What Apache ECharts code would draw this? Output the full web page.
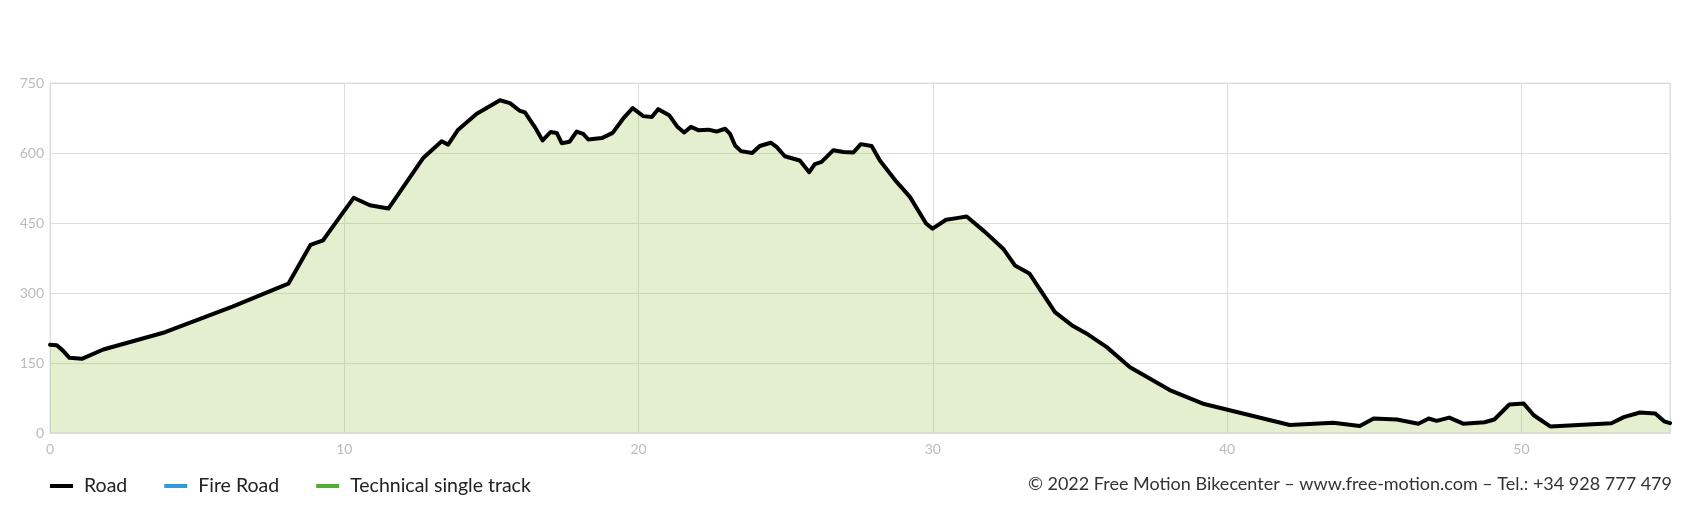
<!DOCTYPE html>
<html>
<head>
<meta charset="utf-8">
<script src="https://cdn.jsdelivr.net/npm/echarts@6/dist/echarts.min.js"></script>
<style>
  html, body { margin: 0; padding: 0; background: #ffffff; }
  #chart { width: 1705px; height: 522px; }
</style>
</head>
<body>
<div id="chart"></div>
<script>
// Distance along route (km)
const distanceKm = [0, 0.23, 0.45, 0.66, 1.08, 1.81, 3.91, 6.2, 8.10, 8.85, 9.28, 9.85, 10.32, 10.87, 11.50,
  12.69, 13.31, 13.53, 13.87, 14.50, 15.29, 15.63, 15.95, 16.14, 16.51, 16.74, 17.01, 17.22, 17.39, 17.65,
  17.90, 18.12, 18.29, 18.75, 19.12, 19.48, 19.80, 20.16, 20.45, 20.67, 21.04, 21.31, 21.55, 21.78, 22.03,
  22.37, 22.65, 22.94, 23.11, 23.28, 23.48, 23.86, 24.12, 24.49, 24.69, 24.97, 25.48, 25.80, 25.99, 26.22,
  26.62, 26.96, 27.30, 27.55, 27.92, 28.20, 28.77, 29.22, 29.77, 29.99, 30.45, 30.86, 31.15, 31.77, 32.39,
  32.79, 33.28, 34.15, 34.72, 35.28, 35.91, 36.70, 38.05, 39.22, 42.13, 43.61, 44.51, 44.98, 45.77, 46.50,
  46.85, 47.12, 47.55, 48.02, 48.75, 49.08, 49.59, 50.08, 50.42, 50.98, 53.06, 53.48, 54.03, 54.55, 54.85, 55.05];
// Elevation (m)
const elevationM = [189, 188, 176, 161, 159, 179, 216, 271, 320, 403, 413, 463, 504, 488, 481,
  590, 625, 618, 650, 684, 713, 707, 691, 687, 652, 627, 645, 643, 621, 624,
  646, 641, 629, 632, 643, 674, 696, 679, 677, 694, 681, 657, 644, 656, 649,
  650, 646, 652, 641, 616, 604, 600, 615, 622, 613, 593, 584, 559, 576, 581,
  606, 602, 601, 619, 615, 584, 538, 506, 449, 438, 457, 461, 464, 431, 395,
  359, 342, 259, 231, 211, 184, 141, 92, 62, 17, 22, 15, 31, 29, 20,
  31, 26, 33, 20, 23, 29, 61, 63, 38, 14, 21, 34, 44, 42, 25, 21];
const legendNames = ['Road', 'Fire Road', 'Technical single track'];
const yTicks = [0, 150, 300, 450, 600, 750];
const xTicks = [0, 10, 20, 30, 40, 50];
const copyright = '\u00A9 2022 Free Motion Bikecenter \u2013 www.free-motion.com \u2013 Tel.: +34 928 777 479';

const FONT = 'Lato, "Open Sans", sans-serif';
const roadData = distanceKm.map((d, i) => [d, elevationM[i]]);

const chart = echarts.init(document.getElementById('chart'), null, { renderer: 'canvas' });
chart.setOption({
  animation: false,
  backgroundColor: '#ffffff',
  grid: {
    left: 50, right: 35, top: 83, bottom: 89,
    containLabel: false, outerBoundsMode: 'none',
    show: true, borderColor: '#dddddd', borderWidth: 1, backgroundColor: 'transparent'
  },
  legend: {
    data: legendNames,
    left: 50, top: 475, padding: 0,
    icon: 'rect', itemWidth: 23, itemHeight: 4, itemGap: 37,
    textStyle: { fontFamily: FONT, fontSize: 19.5, lineHeight: 22, color: '#222222', padding: [0, 0, 0, 6] },
    selectedMode: false
  },
  graphic: [{
    type: 'text', right: 33, top: 475,
    style: { text: copyright, font: '18px ' + FONT, fill: '#333333' }
  }],
  xAxis: {
    type: 'value', min: xTicks[0], max: 55.05, interval: 10,
    axisLine: { show: true, lineStyle: { color: '#dddddd', width: 1 } },
    axisTick: { show: false },
    splitLine: { show: true, lineStyle: { color: '#dddddd', width: 1 } },
    axisLabel: {
      color: '#bbbbbb', fontFamily: FONT, fontSize: 14, margin: 9,
      showMaxLabel: false,
      formatter: v => (xTicks.indexOf(v) >= 0 ? String(v) : '')
    }
  },
  yAxis: {
    type: 'value', min: yTicks[0], max: yTicks[yTicks.length - 1], interval: 150,
    axisLine: { show: true, lineStyle: { color: '#dddddd', width: 1 } },
    axisTick: { show: false },
    splitLine: { show: true, lineStyle: { color: '#dddddd', width: 1 } },
    axisLabel: { color: '#bbbbbb', fontFamily: FONT, fontSize: 14, margin: 6 }
  },
  series: [
    {
      name: legendNames[0], type: 'line', data: roadData, symbol: 'none',
      color: '#000000',
      lineStyle: { color: '#000000', width: 4, join: 'round', cap: 'round' },
      areaStyle: { color: 'rgba(150,196,70,0.38)', origin: 'start' },
      z: 3
    },
    { name: legendNames[1], type: 'line', data: [], symbol: 'none', color: '#3498db', lineStyle: { color: '#3498db', width: 4 } },
    { name: legendNames[2], type: 'line', data: [], symbol: 'none', color: '#52ae32', lineStyle: { color: '#52ae32', width: 4 } }
  ]
});
</script>
</body>
</html>
